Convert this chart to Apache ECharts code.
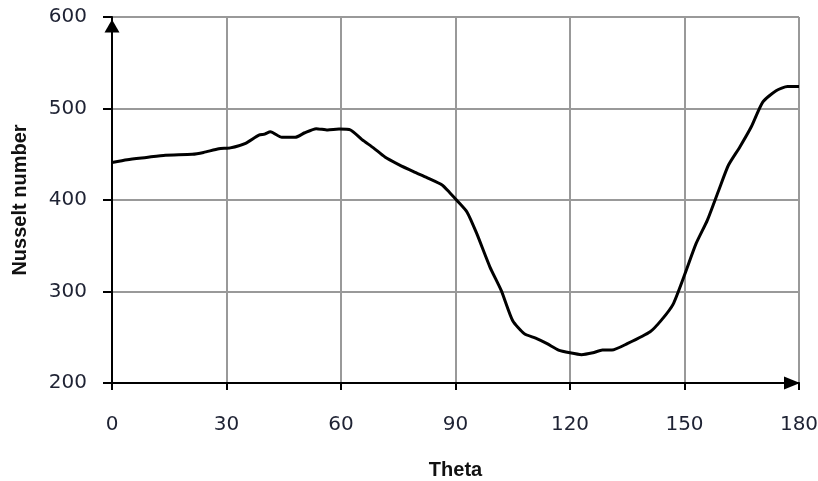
<!DOCTYPE html>
<html>
<head>
<meta charset="utf-8">
<script src="https://cdn.jsdelivr.net/npm/echarts@6/dist/echarts.min.js"></script>
<style>
  html, body { margin: 0; padding: 0; background: #fff; }
  #chart { width: 818px; height: 481px; }
</style>
</head>
<body>
<div id="chart"></div>
<script>
var theta = [0, 4, 9, 14, 21, 24, 28, 31, 35, 38.5, 40, 41.5, 44.5, 48, 50.5, 53.5, 56.5, 59.5, 62.5,
    65.5, 68.5, 71.5, 75, 79, 82.5, 86.5, 88.5, 90.5, 93, 95.5, 99, 102, 105, 108, 111, 114, 117,
    120, 123, 126, 128.5, 131, 135, 141, 144, 147, 150, 153, 156, 159, 161.5, 164.5, 167.5, 170.5,
    174, 177, 180];
var nusselt = [441, 444, 446.5, 449, 450, 452, 456, 457, 462, 471, 472, 474.5, 468.5, 468.5, 473.5,
    478, 476.5, 477.5, 476.5, 466, 457, 447, 439, 431, 424.5, 416.5, 408, 399, 387, 364, 327, 301,
    268, 254, 249, 243, 236, 233, 231, 233, 236, 236, 243, 256, 269, 286, 318, 352, 378, 411, 438,
    458, 480, 507, 519.5, 524, 524];
var xTicks = { min: 0, max: 180, step: 30 };
var yTicks = { min: 200, max: 600, step: 100 };

function nusseltChart(){
    var chart = echarts.init(document.getElementById('chart'));
    var points = theta.map(function (t, i) { return [t, nusselt[i]]; });

    var option = {
        animation: false,
        grid: { left: 112, right: 19, top: 17, bottom: 98, outerBoundsMode: 'none' },
        xAxis: {
            type: 'value',
            min: xTicks.min,
            max: xTicks.max,
            interval: xTicks.step,
            name: 'Theta',
            nameLocation: 'middle',
            nameGap: 77,
            nameTextStyle: { fontFamily: 'Liberation Sans', fontWeight: 'bold', fontSize: 20, color: '#111' },
            axisLine: {
                lineStyle: { color: '#000', width: 2 },
                symbol: ['none', 'triangle'],
                symbolSize: [13, 16],
                symbolOffset: [0, -7]
            },
            axisTick: { show: true, length: 7, lineStyle: { color: '#000', width: 2 } },
            axisLabel: { margin: 32, fontFamily: 'DejaVu Sans', fontSize: 20, color: '#1e2233' },
            splitLine: { show: true, lineStyle: { color: '#999', width: 2 } }
        },
        yAxis: {
            type: 'value',
            min: yTicks.min,
            max: yTicks.max,
            interval: yTicks.step,
            name: 'Nusselt number',
            nameLocation: 'middle',
            nameGap: 82,
            nameTextStyle: { fontFamily: 'Liberation Sans', fontWeight: 'bold', fontSize: 20, color: '#111' },
            axisLine: {
                show: true,
                lineStyle: { color: '#000', width: 2 },
                symbol: ['none', 'triangle'],
                symbolSize: [15, 13],
                symbolOffset: [0, -9]
            },
            axisTick: { show: true, length: 9, lineStyle: { color: '#000', width: 2 } },
            axisLabel: { margin: 25, fontFamily: 'DejaVu Sans', fontSize: 20, color: '#1e2233' },
            splitLine: { show: true, lineStyle: { color: '#999', width: 2 } }
        },
        series: [{
            type: 'line',
            data: points,
            showSymbol: false,
            smooth: 0.2,
            lineStyle: { color: '#000', width: 3 }
        }]
    };

    chart.setOption(option);
}

nusseltChart();
</script>
</body>
</html>
